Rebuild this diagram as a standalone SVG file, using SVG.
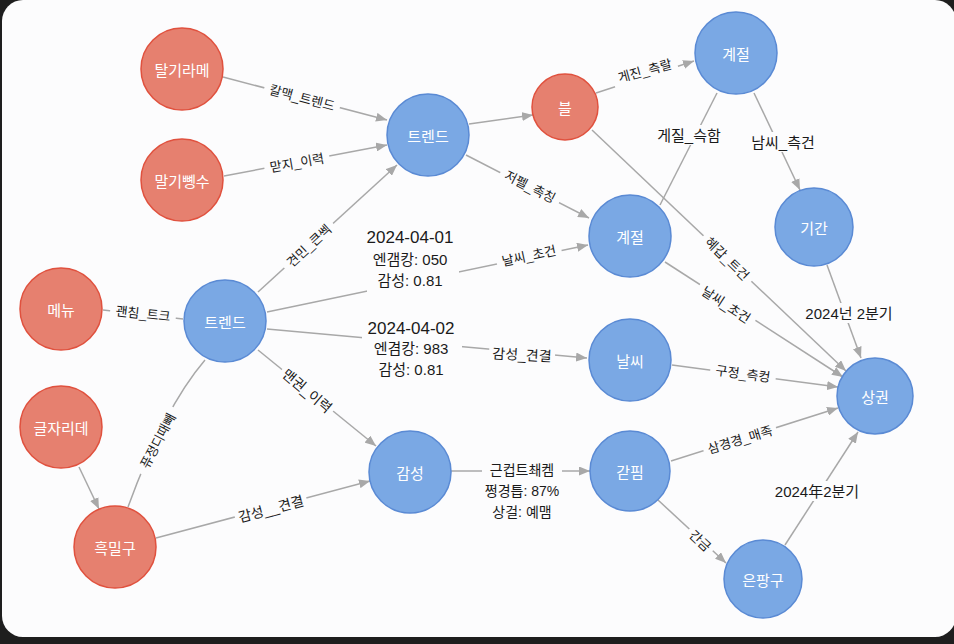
<svg xmlns="http://www.w3.org/2000/svg" width="954" height="644" viewBox="0 0 954 644">
<style>
.bg{fill:#1e1e1e}
.panel{fill:#fcfcfd}
.red circle{fill:#e6806f;stroke:#e0513e;stroke-width:1.5}
.blue circle{fill:#7aa8e4;stroke:#5a8ad4;stroke-width:1.5}
.nt{fill:#ffffff;font-family:"Noto Sans CJK KR","Liberation Sans",sans-serif;font-size:15px;text-anchor:middle;dominant-baseline:central}
.e{stroke:#a8a8a8;stroke-width:1.5;fill:none}
.a{marker-end:url(#arr)}
.lb{fill:#fcfcfd}
.lt{fill:#1a1a1a;font-family:"Liberation Sans","Noto Sans CJK KR",sans-serif;font-size:13px;text-anchor:middle;dominant-baseline:central}
.lt15{font-size:15px}
.lt14{font-size:14px}
.lt17{font-size:17px}
</style>
<defs>
<marker id="arr" markerUnits="userSpaceOnUse" markerWidth="12" markerHeight="9" refX="11" refY="4.5" orient="auto">
<path d="M0,0 L11,4.5 L0,9 z" fill="#a8a8a8"/>
</marker>
</defs>
<rect class="bg" x="0" y="0" width="954" height="644"/>
<rect class="panel" x="2" y="0" width="954" height="637" rx="21"/>

<g id="connectors">
<path class="e a" d="M223,77 L387,120"/>
<path class="e a" d="M224,176 L387,145"/>
<path class="e a" d="M258,292 L397,165"/>
<path class="e a" d="M469,124 L533,115"/>
<path class="e a" d="M596,93 L694,61"/>
<path class="e a" d="M466,155 L589,218"/>
<path class="e" d="M660,205 L717,93"/>
<path class="e a" d="M754,93 L800,190"/>
<path class="e a" d="M592,130 L846,371"/>
<path class="e a" d="M665,262 L843,377"/>
<path class="e a" d="M827,265 L861,358"/>
<path class="e a" d="M267,312 L588,245"/>
<path class="e a" d="M267,329 L587,358"/>
<path class="e" d="M103,310 L183,319"/>
<path class="e" d="M205,360 Q164,408 128,507"/>
<path class="e a" d="M79,467 L99,509"/>
<path class="e a" d="M156,538 L370,481"/>
<path class="e a" d="M258,350 L376,446"/>
<path class="e a" d="M451,471 L590,471"/>
<path class="e a" d="M671,461 L838,408"/>
<path class="e a" d="M658,500 L726,563"/>
<path class="e a" d="M785,545 L858,432"/>
<path class="e a" d="M672,365 L838,387"/>

<g transform="translate(302,98) rotate(15)"><rect class="lb" x="-39" y="-9" width="78" height="18"/><text class="lt">칼맥_트렌드</text></g>
<g transform="translate(297,163) rotate(-10)"><rect class="lb" x="-33" y="-9" width="66" height="18"/><text class="lt">맏지_이력</text></g>
<g transform="translate(309,246) rotate(-43)"><rect class="lb" x="-33" y="-9" width="66" height="18"/><text class="lt">견민_큰쎅</text></g>
<g transform="translate(645,71) rotate(-15)"><rect class="lb" x="-33" y="-10" width="66" height="20"/><text class="lt">게진_측랄</text></g>
<g transform="translate(530,187) rotate(27)"><rect class="lb" x="-33" y="-9" width="66" height="18"/><text class="lt">저펠_촉칭</text></g>
<g transform="translate(689,135)"><rect class="lb" x="-33" y="-10" width="66" height="20"/><text class="lt lt15">게질_슥함</text></g>
<g transform="translate(783,142)"><rect class="lb" x="-33" y="-10" width="66" height="20"/><text class="lt lt15">남씨_측건</text></g>
<g transform="translate(727,259) rotate(44)"><rect class="lb" x="-33" y="-9" width="66" height="18"/><text class="lt">혜갑_트건</text></g>
<g transform="translate(726,305) rotate(33)"><rect class="lb" x="-33" y="-9" width="66" height="18"/><text class="lt">날씨_초건</text></g>
<g transform="translate(849,313)"><rect class="lb" x="-48" y="-10" width="96" height="20"/><text class="lt lt15">2024넌 2분기</text></g>
<g transform="translate(413,259)"><rect class="lb" x="-46" y="-35" width="92" height="69"/>
<text class="lt lt17" x="-3" y="-22">2024-04-01</text>
<text class="lt lt15" x="-3" y="0">엔갬캉: 050</text>
<text class="lt lt15" x="-3" y="21">감성: 0.81</text></g>
<g transform="translate(529,256) rotate(-12)"><rect class="lb" x="-33" y="-9" width="66" height="18"/><text class="lt">날씨_초건</text></g>
<g transform="translate(412,348)"><rect class="lb" x="-50" y="-34" width="100" height="67"/>
<text class="lt lt17" x="-1" y="-20">2024-04-02</text>
<text class="lt lt15" x="-1" y="0">엔겸캉: 983</text>
<text class="lt lt15" x="-1" y="21">감성: 0.81</text></g>
<g transform="translate(522,355) rotate(3)"><rect class="lb" x="-33" y="-9" width="66" height="18"/><text class="lt lt14">감성_견결</text></g>
<g transform="translate(143,314) rotate(6)"><rect class="lb" x="-33" y="-9" width="66" height="18"/><text class="lt">괜침_트크</text></g>
<g transform="translate(158,441) rotate(-62)"><rect class="lb" x="-37" y="-9" width="74" height="18"/><text class="lt">퓨정디때빼</text></g>
<g transform="translate(271,509) rotate(-15)"><rect class="lb" x="-37" y="-9" width="74" height="18"/><text class="lt lt14">감성__견결</text></g>
<g transform="translate(307,391) rotate(40)"><rect class="lb" x="-33" y="-9" width="66" height="18"/><text class="lt lt14">맨권_이력</text></g>
<g transform="translate(522,491)"><rect class="lb" x="-40" y="-31" width="80" height="62"/>
<text class="lt lt14" y="-21">근컵트쵀켐</text>
<text class="lt lt14" y="0">쩡경틉: 87%</text>
<text class="lt lt14" y="21">상걸: 예맴</text></g>
<g transform="translate(740,440) rotate(-17)"><rect class="lb" x="-38" y="-9" width="76" height="18"/><text class="lt">삼경경_매족</text></g>
<g transform="translate(700,541) rotate(43)"><rect class="lb" x="-16" y="-9" width="32" height="18"/><text class="lt">간금</text></g>
<g transform="translate(817,491)"><rect class="lb" x="-47" y="-10" width="94" height="20"/><text class="lt lt15">2024年2분기</text></g>
<g transform="translate(743,374) rotate(7.5)"><rect class="lb" x="-33" y="-9" width="66" height="18"/><text class="lt">구정_측컹</text></g>
</g>

<g id="n-talgi" class="red"><circle cx="182" cy="69" r="41"/><text class="nt" x="182" y="69">탈기라메</text></g>
<g id="n-malgi" class="red"><circle cx="182" cy="180" r="41"/><text class="nt" x="182" y="180">말기뼹수</text></g>
<g id="n-menu" class="red"><circle cx="61" cy="309" r="41"/><text class="nt" x="61" y="309">메뉴</text></g>
<g id="n-geulja" class="red"><circle cx="61" cy="427" r="41"/><text class="nt" x="61" y="427">글자리데</text></g>
<g id="n-heuk" class="red"><circle cx="115" cy="547" r="41"/><text class="nt" x="115" y="547">흑밀구</text></g>
<g id="n-beul" class="red"><circle cx="565" cy="107" r="33"/><text class="nt" x="565" y="107">블</text></g>
<g id="n-trend1" class="blue"><circle cx="428" cy="135" r="41"/><text class="nt" x="428" y="135">트렌드</text></g>
<g id="n-season1" class="blue"><circle cx="736" cy="53" r="41"/><text class="nt" x="736" y="53">계절</text></g>
<g id="n-season2" class="blue"><circle cx="630" cy="236" r="41"/><text class="nt" x="630" y="236">계절</text></g>
<g id="n-period" class="blue"><circle cx="814" cy="227" r="39"/><text class="nt" x="814" y="227">기간</text></g>
<g id="n-trend2" class="blue"><circle cx="225" cy="321" r="41"/><text class="nt" x="225" y="321">트렌드</text></g>
<g id="n-weather" class="blue"><circle cx="630" cy="360" r="41"/><text class="nt" x="630" y="360">날씨</text></g>
<g id="n-sanggwon" class="blue"><circle cx="875" cy="396" r="38"/><text class="nt" x="875" y="396">상권</text></g>
<g id="n-gamseong" class="blue"><circle cx="410" cy="472" r="41"/><text class="nt" x="410" y="472">감성</text></g>
<g id="n-gadpim" class="blue"><circle cx="630" cy="471" r="40"/><text class="nt" x="630" y="471">갇핌</text></g>
<g id="n-eunpang" class="blue"><circle cx="763" cy="579" r="39"/><text class="nt" x="763" y="579">은팡구</text></g>
</svg>
